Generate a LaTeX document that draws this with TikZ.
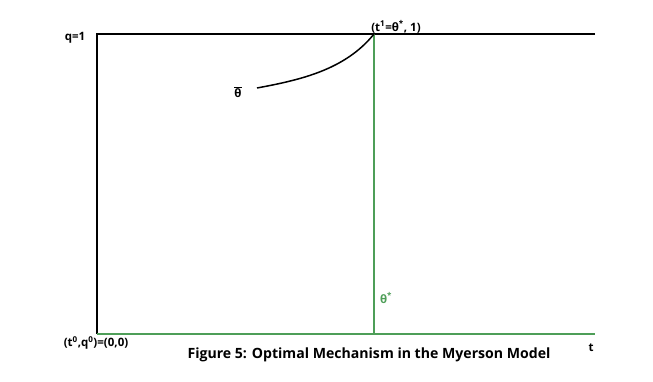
\documentclass[tikz,border=0pt]{standalone}
\usepackage{fontspec}
\setmainfont{Open Sans}
\definecolor{mechgreen}{RGB}{78,158,88}
\begin{document}
\begin{tikzpicture}[x=1pt, y=-1pt, line width=1.8pt,
		lbl/.style={font=\bfseries\fontsize{11.5}{13}\selectfont, inner sep=0pt}]
	\useasboundingbox (0,0) rectangle (653,382);
	
	\coordinate (O) at (97,334);
	\coordinate (Q) at (97,34);
	\coordinate (Qend) at (595,34);
	\coordinate (Tend) at (595,334);
	\coordinate (T1) at (374,34);
	\coordinate (B) at (374,334);
	\coordinate (Cstart) at (257,88);
	
	% axes
	\draw[black] (Qend) -- (Q) -- (O);
	\draw[mechgreen] (O) -- (Tend);
	% cutoff at theta*
	\draw[mechgreen] (T1) -- (B);
	% curve up to (t1,1)
	\draw[black, line width=1.5pt] (Cstart) .. controls (300,80) and (345,70) .. (T1);
	
	\node[lbl] (q1) at (75,38) {q=1};
	\node[lbl] (t1lbl) at (396,27) {(t\textsuperscript{1}=θ\textsuperscript{*}, 1)};
	\node[lbl] (thbar) at (238,92) {$\overline{\hbox{\bfseries θ}}$};
	\node[lbl, mechgreen] (thstar) at (386,298) {θ\textsuperscript{*}};
	\node[lbl] (origin) at (96,343) {(t\textsuperscript{0},q\textsuperscript{0})=(0,0)};
	\node[lbl] (tlbl) at (591,348) {t};
	\node[font=\bfseries\fontsize{14.1}{16}\selectfont, inner sep=0pt] (caption) at (369,355) {Figure 5: Optimal Mechanism in the Myerson Model};
\end{tikzpicture}
\end{document}
